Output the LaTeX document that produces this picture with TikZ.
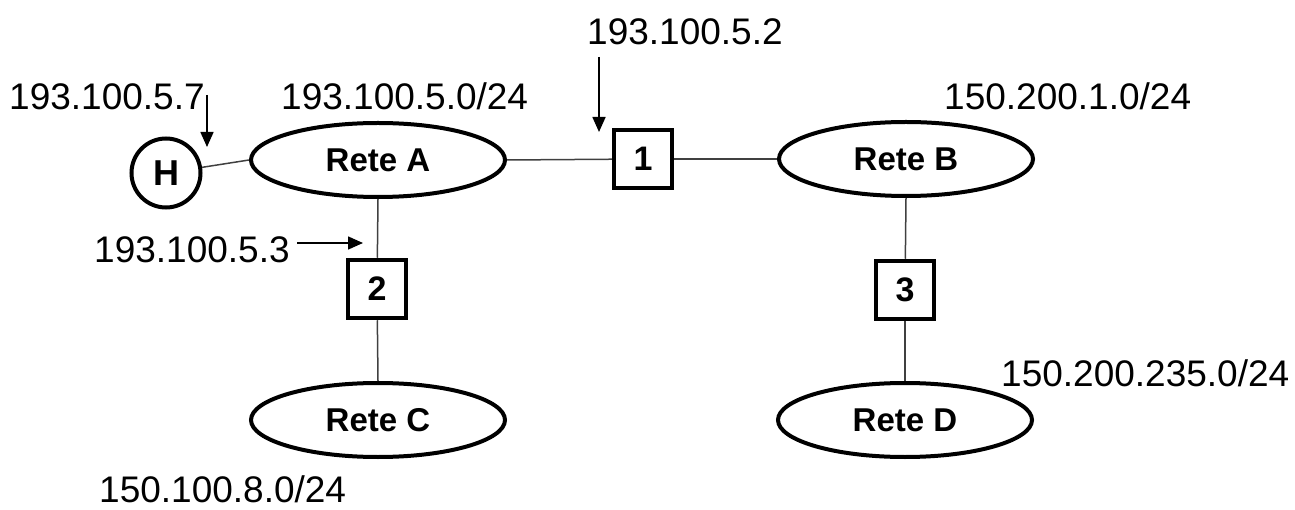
\documentclass[tikz,border=0pt]{standalone}
\usepackage{fontspec}
\setmainfont{Liberation Sans}
\usetikzlibrary{shapes.geometric,arrows.meta}
\begin{document}
\begin{tikzpicture}[x=1pt,y=-1pt,
  net/.style={ellipse,draw,line width=4pt,inner sep=0pt,minimum width=254pt,minimum height=74pt,font=\fontsize{33}{38}\selectfont\bfseries},
  rbox/.style={rectangle,draw,line width=4.5pt,inner sep=0pt,minimum size=58pt,font=\fontsize{34}{40}\selectfont\bfseries},
  hostc/.style={circle,draw,line width=4pt,inner sep=0pt,minimum size=69pt,font=\fontsize{36}{40}\selectfont\bfseries},
  link/.style={draw=black!75,line width=1.5pt},
  ptr/.style={line width=1.6pt,-{Triangle[width=13pt,length=15pt]}},
  addr/.style={anchor=base west,inner sep=0pt,font=\fontsize{37}{44}\selectfont}]
\useasboundingbox (0,0) rectangle (1295,510);
% nodes
\node[hostc] (H) at (166,173) {H};
\node[net] (RA) at (378,160) {Rete A};
\node[rbox] (B1) at (643,159) {1};
\node[net] (RB) at (906,159) {Rete B};
\node[rbox] (B2) at (377,289) {2};
\node[net] (RC) at (378,420) {Rete C};
\node[rbox] (B3) at (905,290) {3};
\node[net] (RD) at (905,420) {Rete D};
% links
\draw[link] (H) -- (RA.west);
\draw[link] (RA.east) -- (B1);
\draw[link] (B1) -- (RB.west);
\draw[link] (RA.south) -- (B2);
\draw[link] (B2) -- (RC.north);
\draw[link] (RB.south) -- (B3);
\draw[link] (B3) -- (RD.north);
% address labels
\node[addr] (tH) at (9,110) {193.100.5.7};
\node[addr] (tA) at (281,110) {193.100.5.0/24};
\node[addr] (t1) at (587,45) {193.100.5.2};
\node[addr] (tB) at (944,110) {150.200.1.0/24};
\node[addr] (t2) at (94,263) {193.100.5.3};
\node[addr] (tC) at (99,502) {150.100.8.0/24};
\node[addr] (tD) at (1001,386) {150.200.235.0/24};
% pointers
\coordinate (p1s) at (207,95);
\coordinate (p1e) at (207,147);
\coordinate (p2s) at (599,57);
\coordinate (p2e) at (599,132);
\coordinate (p3s) at (297,243);
\coordinate (p3e) at (363,243);
\draw[ptr] (p1s) -- (p1e);
\draw[ptr] (p2s) -- (p2e);
\draw[ptr] (p3s) -- (p3e);
\end{tikzpicture}
\end{document}
